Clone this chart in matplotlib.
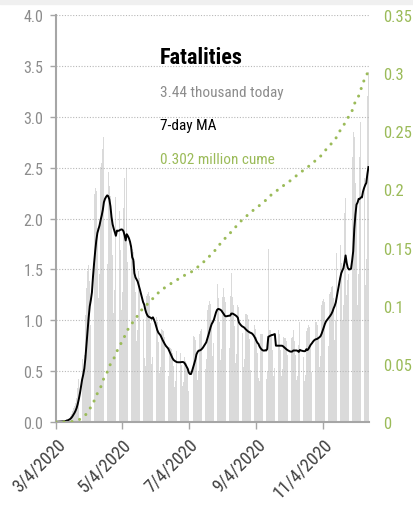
import numpy as np
import pandas as pd
import matplotlib
matplotlib.use('Agg')
import matplotlib.pyplot as plt
from matplotlib import font_manager as fm
from matplotlib.ticker import MultipleLocator, FuncFormatter

# Daily fatalities in thousands, 3/4/2020 to 12/16/2020, one list per month
mar = [0.002, 0.004, 0.004, 0.005, 0.006, 0.007, 0.008, 0.010, 0.012, 0.020,
       0.030, 0.036, 0.045, 0.055, 0.080, 0.110, 0.140, 0.160, 0.190, 0.240,
       0.330, 0.420, 0.500, 0.620, 0.620, 0.520, 0.660, 1.050]
apr = [1.32, 1.48, 1.54, 1.39, 0.95, 1.19, 2.14,
       2.24, 2.30, 2.27, 1.91, 1.22, 1.45, 2.51,
       2.55, 2.68, 2.80, 2.14, 1.36, 1.55, 2.46,
       2.32, 2.22, 2.05, 1.64, 1.07, 1.30, 2.21,
       2.68, 2.20]
may = [2.07, 1.69, 1.10, 1.28, 2.10, 2.40, 1.85,
       2.50, 1.57, 0.94, 1.04, 1.74, 1.70, 1.67,
       1.58, 1.28, 0.80, 0.90, 1.48, 1.42, 1.37,
       1.27, 1.01, 0.63, 0.55, 1.24, 1.26, 1.28,
       1.24, 0.97, 0.57]
jun = [0.64, 1.08, 1.06, 1.03, 0.98, 0.79, 0.48,
       0.54, 0.91, 0.90, 0.89, 0.84, 0.67, 0.40,
       0.45, 0.74, 0.73, 0.72, 0.68, 0.55, 0.34,
       0.40, 0.70, 0.72, 0.72, 0.68, 0.56, 0.35,
       0.39, 0.64]
jul = [0.60, 0.58, 0.54, 0.30, 0.25, 0.39, 0.85,
       0.85, 0.84, 0.81, 0.66, 0.41, 0.49, 0.86,
       0.89, 0.91, 0.90, 0.78, 0.52, 0.62, 1.10,
       1.15, 1.19, 1.16, 1.00, 0.65, 0.78, 1.35,
       1.42, 1.36, 1.22]
aug = [0.98, 0.61, 0.72, 1.23, 1.32, 1.23, 1.18,
       0.99, 0.63, 0.73, 1.24, 1.46, 1.23, 1.15,
       0.94, 0.58, 0.67, 1.15, 1.13, 1.12, 1.06,
       0.87, 0.54, 0.62, 1.06, 1.06, 1.05, 1.01,
       0.82, 0.51, 0.58]
sep = [0.98, 0.95, 0.91, 0.84, 0.68, 0.43, 0.40,
       0.86, 0.86, 0.86, 0.82, 0.70, 0.42, 0.50,
       1.70, 0.90, 0.90, 0.86, 0.71, 0.45, 0.53,
       0.90, 0.90, 0.90, 0.86, 0.71, 0.45, 0.52,
       0.84, 0.83]
octo = [0.83, 0.80, 0.66, 0.41, 0.48, 0.83, 0.84,
        0.90, 0.80, 0.66, 0.41, 0.45, 0.76, 0.98,
        0.86, 0.78, 0.64, 0.40, 0.46, 0.89, 0.92,
        0.95, 0.93, 0.77, 0.49, 0.57, 0.98, 0.98,
        0.98, 0.95, 0.83]
nov = [0.54, 0.65, 1.15, 1.19, 1.21, 1.18, 1.00,
       0.64, 0.75, 1.26, 1.28, 1.33, 1.34, 1.22,
       0.81, 0.99, 1.66, 1.71, 1.76, 1.74, 1.56,
       1.00, 1.15, 2.05, 2.20, 1.25, 1.40, 1.45,
       1.00, 1.20]
dec = [2.60, 2.85, 2.80, 2.35, 2.15, 1.15, 1.45,
       2.60, 2.95, 2.80, 2.75, 2.40, 1.35, 1.60,
       3.20, 3.44]

start_date = '2020-03-04'
tick_dates = ['2020-03-04', '2020-05-04', '2020-07-04', '2020-09-04', '2020-11-04']
tick_labels = ['3/4/2020', '5/4/2020', '7/4/2020', '9/4/2020', '11/4/2020']

title = 'Fatalities'
today_text = '3.44 thousand today'
ma_text = '7-day MA'
cume_text = '0.302 million cume'

GREEN = '#9bbb59'
GRAY_TXT = '#8c8c8c'
BAR_COLOR = '#dadada'
AXIS_COLOR = '#a6a6a6'


def pick_font(names):
    for n in names:
        try:
            fm.findfont(fm.FontProperties(family=n), fallback_to_default=False)
            return n
        except Exception:
            pass
    return 'DejaVu Sans'


NARROW = pick_font(['Liberation Sans Narrow', 'Roboto Condensed', 'Liberation Sans'])
plt.rcParams['font.family'] = [NARROW, 'DejaVu Sans']

values = mar + apr + may + jun + jul + aug + sep + octo + nov + dec
daily = pd.Series(values, index=pd.date_range(start_date, periods=len(values), freq='D'))
ma = daily.rolling(7, min_periods=1).mean()
cume = daily.cumsum() / 1000.0

W, H = 414, 510
fig = plt.figure(figsize=(W / 100, H / 100), dpi=100)
fig.patches.append(plt.Rectangle((0, 1 - 5 / H), 1, 5 / H, transform=fig.transFigure,
                                 color='#f0f0f0', zorder=0))

ax = fig.add_axes([56 / W, 1 - 423 / H, (369 - 56) / W, (423 - 16) / H])
ax.bar(daily.index, daily.values, width=0.75, color=BAR_COLOR, linewidth=0, zorder=1)
ax.plot(ma.index, ma.values, color='black', lw=1.4, zorder=3)

ax.set_ylim(0, 4)
ax.set_xlim(pd.Timestamp(start_date), daily.index[-1] + pd.Timedelta(hours=12))
ax.yaxis.set_major_locator(MultipleLocator(0.5))
ax.yaxis.set_major_formatter(FuncFormatter(lambda v, p: f'{v:.1f}'))
ax.grid(axis='y', color='#b8b8b8', linestyle=(0, (1, 1.5)), lw=0.8)
ax.set_axisbelow(False)

for s in ['top', 'right']:
    ax.spines[s].set_visible(False)
for s in ['left', 'bottom']:
    ax.spines[s].set_color(AXIS_COLOR)
    ax.spines[s].set_linewidth(1.5)
    ax.spines[s].set_zorder(4)

ax.tick_params(axis='y', length=4, width=1, color=AXIS_COLOR, labelcolor=GRAY_TXT,
               labelsize=11.5, pad=5)
ax.set_xticks(pd.to_datetime(tick_dates))
ax.set_xticklabels(tick_labels, rotation=45, ha='right', rotation_mode='anchor')
ax.tick_params(axis='x', length=5, width=1, color=AXIS_COLOR, labelcolor='#404040',
               labelsize=13, pad=4)

ax2 = ax.twinx()
ax2.plot(cume.index, cume.values, color=GREEN, lw=2.2, linestyle=(0, (0.01, 2.6)),
         dash_capstyle='round')
ax2.set_ylim(0, 0.35)
ax2.set_yticks(np.arange(0, 0.351, 0.05))
ax2.yaxis.set_major_formatter(
    FuncFormatter(lambda v, p: f'{v:.2f}'.rstrip('0').rstrip('.') if v > 1e-9 else '0'))
ax2.tick_params(axis='y', length=0, labelcolor=GREEN, labelsize=12, pad=10)
for s in ax2.spines.values():
    s.set_visible(False)

tx = 160 / W
fig.text(tx, 1 - 58 / H, title, fontsize=16, fontweight='bold', color='black',
         ha='left', va='center')
fig.text(tx, 1 - 93 / H, today_text, fontsize=11, color=GRAY_TXT, ha='left', va='center')
fig.text(tx, 1 - 126 / H, ma_text, fontsize=11, color='black', ha='left', va='center')
fig.text(tx, 1 - 160 / H, cume_text, fontsize=11, color=GREEN, ha='left', va='center')

fig.savefig('out.png', dpi=100)
